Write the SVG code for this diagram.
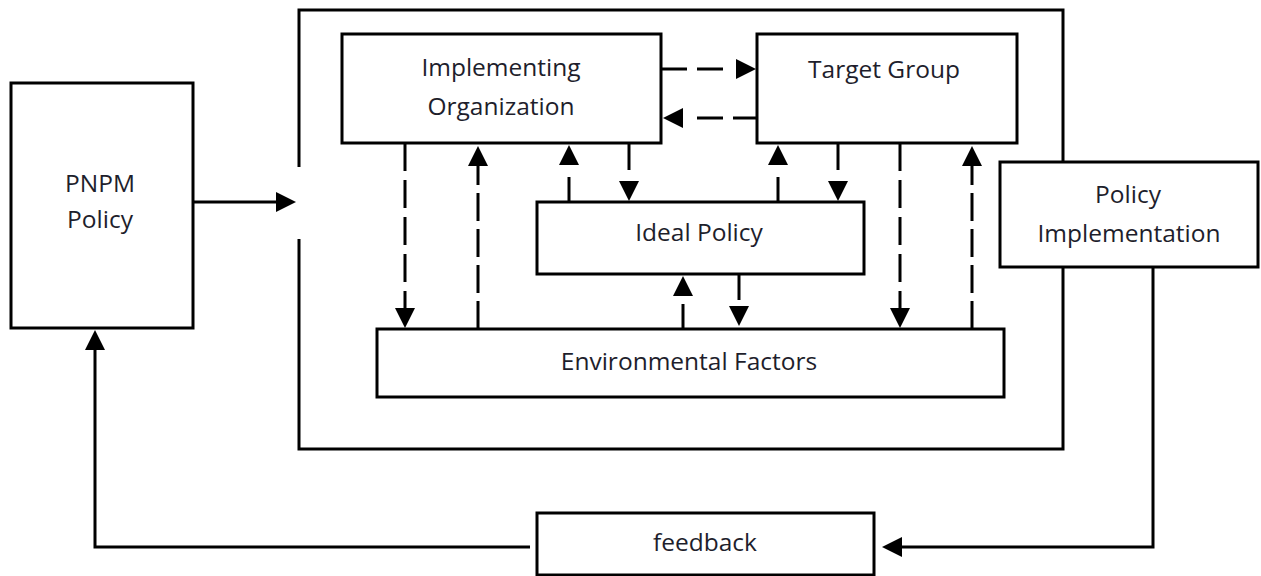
<svg xmlns="http://www.w3.org/2000/svg" width="1261" height="576" viewBox="0 0 1261 576">
<style>
.box{fill:#fff;stroke:#000;stroke-width:3}
.frame{fill:none;stroke:#000;stroke-width:3}
.ln{fill:none;stroke:#000;stroke-width:3;marker-end:url(#ah)}
.lbl{font-family:"Open Sans","DejaVu Sans",sans-serif;font-size:24.5px;fill:#1e1e2c;text-anchor:middle}
</style>
<defs>
<marker id="ah" markerUnits="userSpaceOnUse" markerWidth="20" markerHeight="20" refX="0" refY="10" orient="auto">
<path d="M0,0 L20,10 L0,20 z" fill="#000"/>
</marker>
</defs>
<rect width="1261" height="576" fill="#fff"/>
<g id="frame">
<path class="frame" d="M299,239 V449 H1063 V267 M1063,162 V10 H299 V167"/>
</g>
<g id="connectors">
<path class="ln" d="M661,69 H736" stroke-dasharray="26 10 26 13"/>
<path class="ln" d="M757,118 H683" stroke-dasharray="24 10 26 14"/>
<path class="ln" d="M405,143 V308" stroke-dasharray="28 9"/>
<path class="ln" d="M478,329 V166" stroke-dasharray="28 8"/>
<path class="ln" d="M569,202 V165" stroke-dasharray="25 20"/>
<path class="ln" d="M629,143 V181" stroke-dasharray="27 20"/>
<path class="ln" d="M778,202 V165" stroke-dasharray="25 20"/>
<path class="ln" d="M838,143 V181" stroke-dasharray="27 20"/>
<path class="ln" d="M900,143 V308" stroke-dasharray="28 9"/>
<path class="ln" d="M972,329 V166" stroke-dasharray="28 8"/>
<path class="ln" d="M683,329 V296" stroke-dasharray="25 20"/>
<path class="ln" d="M739,275 V306" stroke-dasharray="25 20"/>
<path class="ln" d="M193,202 H276"/>
<path class="ln" d="M1153,267 V547 H902"/>
<path class="ln" d="M530,547 H95 V350"/>
</g>
<g id="pnpm">
<rect class="box" x="11" y="83" width="182" height="245"/>
<text class="lbl" x="100" y="192">PNPM</text>
<text class="lbl" x="100" y="228">Policy</text>
</g>
<g id="implementing-organization">
<rect class="box" x="342" y="34" width="319" height="109"/>
<text class="lbl" x="501" y="76">Implementing</text>
<text class="lbl" x="501" y="115">Organization</text>
</g>
<g id="target-group">
<rect class="box" x="757" y="34" width="260" height="109"/>
<text class="lbl" x="884" y="78">Target Group</text>
</g>
<g id="ideal-policy">
<rect class="box" x="537" y="202" width="327" height="72"/>
<text class="lbl" x="699" y="241">Ideal Policy</text>
</g>
<g id="environmental-factors">
<rect class="box" x="377" y="329" width="627" height="68"/>
<text class="lbl" x="689" y="370">Environmental Factors</text>
</g>
<g id="policy-implementation">
<rect class="box" x="1000" y="162" width="258" height="105"/>
<text class="lbl" x="1128" y="203">Policy</text>
<text class="lbl" x="1129" y="242">Implementation</text>
</g>
<g id="feedback">
<rect class="box" x="537" y="513" width="337" height="62"/>
<text class="lbl" x="705" y="551">feedback</text>
</g>
</svg>
